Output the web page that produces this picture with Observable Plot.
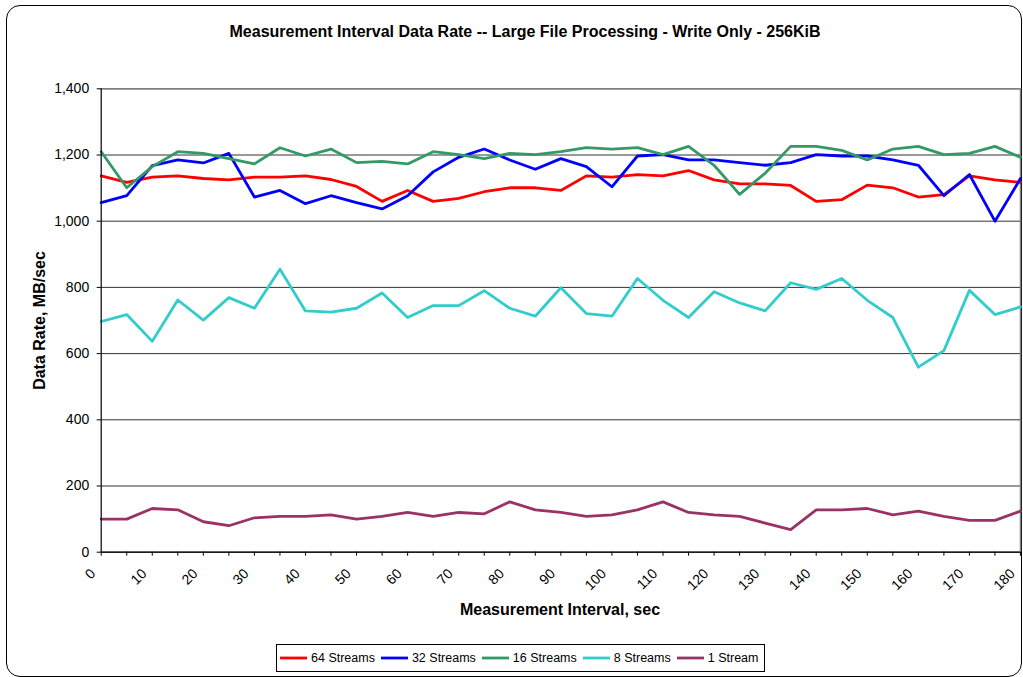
<!DOCTYPE html>
<html>
<head>
<meta charset="utf-8">
<script src="https://cdn.jsdelivr.net/npm/d3@7"></script>
<script src="https://cdn.jsdelivr.net/npm/@observablehq/plot@0.6"></script>
<style>
  html, body { margin: 0; padding: 0; background: #fff; }
  body { width: 1023px; height: 677px; position: relative; overflow: hidden; font-family: "Liberation Sans", Arial, sans-serif; }
  #frame { position: absolute; left: 6px; top: 5px; width: 1016px; height: 672px; border: 1.5px solid #000; border-radius: 14px; box-sizing: border-box; }
  #chart { position: absolute; left: 0; top: 0; }
  #title { position: absolute; left: 0; width: 1050px; top: 23px; text-align: center; font-weight: bold; font-size: 16px; white-space: nowrap; }
  #xtitle { position: absolute; left: 0; width: 1120px; top: 601px; text-align: center; font-weight: bold; font-size: 16px; white-space: nowrap; }
  #legend { position: absolute; left: 276px; top: 644px; width: 489px; height: 28px; border: 1px solid #000; box-sizing: border-box; display: flex; align-items: center; font-size: 12.5px; padding-left: 3px; white-space: nowrap; background: #fff; }
  .item { display: flex; align-items: center; margin-right: 6px; white-space: nowrap; }
  .item svg { margin-right: 4px; flex: none; }
</style>
</head>
<body>
<div id="frame"></div>
<div id="chart"></div>
<div id="title">Measurement Interval Data Rate -- Large File Processing - Write Only - 256KiB</div>
<div id="xtitle">Measurement Interval, sec</div>
<div id="legend"></div>
<script>
const intervals = [0,5,10,15,20,25,30,35,40,45,50,55,60,65,70,75,80,85,90,95,100,105,110,115,120,125,130,135,140,145,150,155,160,165,170,175,180];
const s64 = [1137,1117,1133,1137,1129,1125,1133,1133,1137,1126,1105,1060,1093,1060,1069,1089,1101,1101,1093,1137,1133,1141,1137,1153,1125,1113,1113,1108,1060,1065,1109,1101,1073,1080,1137,1125,1117];
const s32 = [1056,1077,1168,1185,1176,1205,1073,1093,1053,1077,1056,1037,1077,1149,1193,1218,1185,1157,1189,1165,1104,1197,1201,1185,1185,1177,1169,1177,1201,1197,1197,1185,1169,1077,1141,1000,1129];
const s16 = [1210,1101,1165,1210,1205,1189,1173,1222,1197,1218,1177,1181,1173,1210,1201,1189,1205,1201,1210,1222,1218,1222,1201,1226,1169,1081,1145,1226,1226,1214,1185,1218,1226,1201,1205,1226,1193];
const s8 = [697,718,637,762,701,769,737,855,729,725,737,783,709,745,745,790,737,713,799,721,713,827,761,709,787,753,729,814,794,827,761,709,559,609,791,718,741];
const s1 = [100,100,132,128,92,80,104,108,108,113,100,108,120,108,120,116,152,128,120,108,113,128,152,120,113,108,88,68,128,128,132,113,124,108,96,96,124];
const seriesNames = ["64 Streams","32 Streams","16 Streams","8 Streams","1 Stream"];
const seriesColors = ["#FF0000","#0000FF","#339966","#33CCCC","#993366"];
const yTicks = [0,200,400,600,800,1000,1200,1400];
const xLabelTicks = [0,10,20,30,40,50,60,70,80,90,100,110,120,130,140,150,160,170,180];

const seriesValues = [s64, s32, s16, s8, s1];
const data = seriesValues.flatMap((vals, k) => vals.map((v, i) => ({series: seriesNames[k], t: intervals[i], v})));

const chart = Plot.plot({
  width: 1023,
  height: 677,
  marginLeft: 100.7,
  marginRight: 3,
  marginTop: 88.3,
  marginBottom: 125.3,
  style: {fontFamily: "'Liberation Sans', Arial, sans-serif", fontSize: "14px", color: "#000", background: "transparent", overflow: "visible"},
  x: {domain: [0, 180]},
  y: {domain: [0, 1400]},
  color: {domain: seriesNames, range: seriesColors},
  marks: [
    Plot.gridY(yTicks, {stroke: "#333", strokeOpacity: 1, strokeWidth: 1}),
    Plot.ruleY([1400], {stroke: "#808080", strokeWidth: 1.5}),
    Plot.ruleX([180], {stroke: "#808080", strokeWidth: 1.5}),
    Plot.line(data, {x: "t", y: "v", z: "series", stroke: "series", strokeWidth: 2.8}),
    Plot.ruleX([0], {stroke: "#000", strokeWidth: 1.2}),
    Plot.ruleY([0], {stroke: "#000", strokeWidth: 1.2}),
    Plot.axisY(yTicks, {tickFormat: d3.format(","), tickSize: 4, tickPadding: 8, label: "Data Rate, MB/sec", labelAnchor: "center", labelArrow: "none", labelOffset: 68, fontSize: 14}),
    Plot.axisX(intervals, {tickFormat: () => "", tickSize: 4, label: null}),
    Plot.axisX(xLabelTicks, {tickSize: 0, tickRotate: -45, tickPadding: 9, dx: -8, dy: 10, label: null, fontSize: 14})
  ]
});
const yl = chart.querySelector("[aria-label='y-axis label']");
if (yl) { yl.setAttribute("font-weight", "bold"); yl.setAttribute("font-size", "16"); }
document.getElementById("chart").appendChild(chart);

const legend = document.getElementById("legend");
seriesNames.forEach((n, k) => {
  const item = document.createElement("div");
  item.className = "item";
  item.innerHTML = `<svg width="27" height="6"><line x1="0" y1="3" x2="27" y2="3" stroke="${seriesColors[k]}" stroke-width="2.8"/></svg><span>${n}</span>`;
  legend.appendChild(item);
});
</script>
</body>
</html>
